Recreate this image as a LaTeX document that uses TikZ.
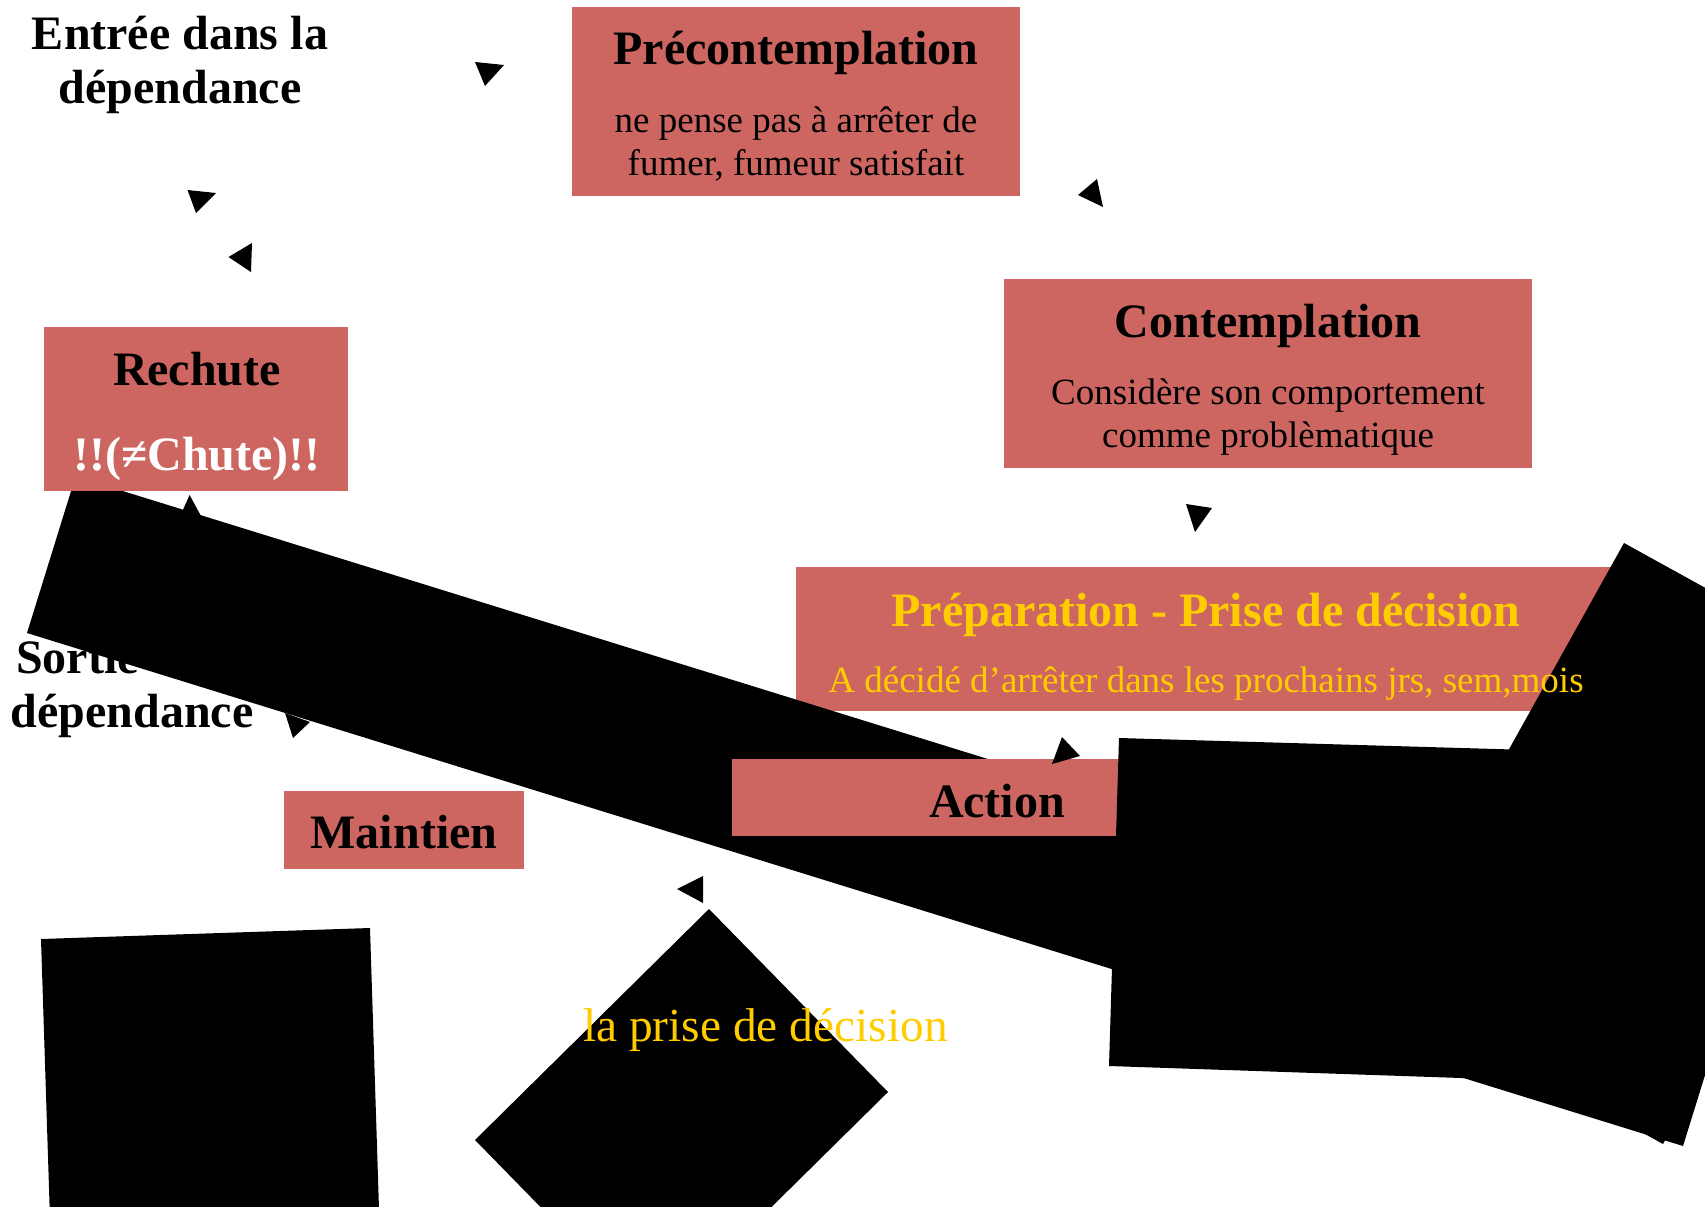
\documentclass[tikz,border=0pt]{standalone}
\usepackage{fontspec}
\setmainfont{Liberation Serif}
\definecolor{stagered}{RGB}{205,102,97}
\definecolor{stagegold}{RGB}{255,204,0}
\tikzset{
  stagebox/.style={fill=stagered, draw=none, inner sep=0pt, outer sep=0pt},
  titletext/.style={anchor=base, inner sep=0pt, font=\fontsize{48}{55}\selectfont\bfseries},
  bodytext/.style={anchor=base, inner sep=0pt, font=\fontsize{37}{43}\selectfont},
  blob/.style={fill=black, draw=none},
}
\begin{document}
\begin{tikzpicture}[x=1pt,y=-1pt]
\useasboundingbox (0,0) rectangle (1705,1207);
\clip (0,0) rectangle (1705,1207);

% free-standing labels
\node[titletext] (entree1) at (180,49) {Entrée dans la};
\node[titletext] (entree2) at (180,103) {dépendance};
\node[titletext] (sortie1) at (132,673) {Sortie de la};
\node[titletext] (sortie2) at (132,727) {dépendance};

% preparation stage box (its text comes last)
\node[stagebox, minimum width=820pt, minimum height=144pt] (prep) at (1206,639) {};

% long slanted band with its two tips
\fill[blob] (75.6,476.4) -- (1731.6,989.4) -- (1683,1146) -- (27,633) -- cycle;
\fill[blob] (182,512) -- (189.6,495) -- (201,516) -- cycle;
\fill[blob] (285,713) -- (293,738) -- (310,722) -- cycle;

% stage boxes
\node[stagebox, minimum width=448pt, minimum height=189pt] (pre) at (796,101.5) {};
\node[titletext] (preT) at (796,65) {Précontemplation};
\node[bodytext] (preA) at (796,132) {ne pense pas à arrêter de};
\node[bodytext] (preB) at (796,175) {fumer, fumeur satisfait};

\node[stagebox, minimum width=528pt, minimum height=189pt] (con) at (1268,373.5) {};
\node[titletext] (conT) at (1268,337) {Contemplation};
\node[bodytext] (conA) at (1268,404) {Considère son comportement};
\node[bodytext] (conB) at (1268,447) {comme problèmatique};

\node[stagebox, minimum width=304pt, minimum height=164pt] (rech) at (196,409) {};
\node[titletext] (rechT) at (197,385) {Rechute};
\node[titletext, text=white] (rechA) at (197,470) {!!(≠Chute)!!};

\node[stagebox, minimum width=530pt, minimum height=77pt] (act) at (997,797.5) {};
\node[titletext] (actT) at (997,817) {Action};

\node[stagebox, minimum width=240pt, minimum height=78pt] (maint) at (404,830) {};
\node[titletext] (maintT) at (404,848) {Maintien};

% black blocks
\fill[blob] (1119,738) -- (1530,750) -- (1520,1080) -- (1109,1066) -- cycle;
\fill[blob] (1624,543) -- (1910,701) -- (1663,1144) -- (1377,986) -- cycle;
\fill[blob] (709,909) -- (888,1092) -- (654,1323) -- (475,1140) -- cycle;
\fill[blob] (41,939) -- (370,928) -- (380,1240) -- (51,1250) -- cycle;

% loose arrow tips
\fill[blob] (475,62) -- (504,65) -- (485,86) -- cycle;
\fill[blob] (187.5,190) -- (216,193) -- (196,213) -- cycle;
\fill[blob] (228.5,257) -- (252,243) -- (251,272) -- cycle;
\fill[blob] (1078,195) -- (1097,179) -- (1103,207) -- cycle;
\fill[blob] (1186,504) -- (1212,508) -- (1195,532) -- cycle;
\fill[blob] (1062,737) -- (1080,756) -- (1052,764) -- cycle;
\fill[blob] (677,889) -- (703,876) -- (703,903) -- cycle;

% texts drawn above the blocks
\node[titletext, text=stagegold] (prepT) at (1206,626) {Préparation - Prise de décision};
\node[bodytext, text=stagegold] (prepA) at (1206,692) {A décidé d’arrêter dans les prochains jrs, sem,mois};
\node[anchor=base, inner sep=0pt, text=stagegold, font=\fontsize{47.4}{54}\selectfont] (decision) at (765.5,1041) {la prise de décision};
\end{tikzpicture}
\end{document}
